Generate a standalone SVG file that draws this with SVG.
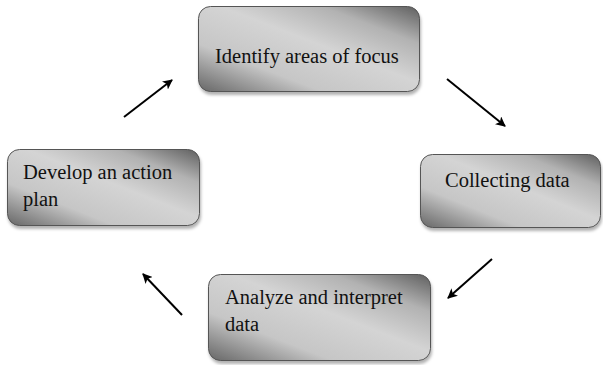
<svg xmlns="http://www.w3.org/2000/svg" width="603" height="365" viewBox="0 0 603 365">
<defs>
<linearGradient id="metal" x1="1" y1="0" x2="0" y2="1">
<stop offset="0" stop-color="#5e5e5e"/>
<stop offset="0.22" stop-color="#b2b2b2"/>
<stop offset="0.45" stop-color="#d4d4d4"/>
<stop offset="0.72" stop-color="#c6c6c6"/>
<stop offset="1" stop-color="#666"/>
</linearGradient>
<filter id="sh" x="-10%" y="-10%" width="125%" height="135%">
<feDropShadow dx="1" dy="3" stdDeviation="1.5" flood-color="#000" flood-opacity="0.3"/>
</filter>
<marker id="ah" viewBox="0 0 10 10" refX="9" refY="5" markerWidth="5" markerHeight="5" orient="auto" markerUnits="strokeWidth">
<path d="M0,0 L10,5 L0,10 L2.5,5 Z" fill="#000"/>
</marker>
</defs>
<style>
.box{fill:url(#metal);stroke:#555;stroke-width:1;filter:url(#sh)}
.t{font-family:"Liberation Serif","Times New Roman",serif;font-size:20.5px;fill:#111}
.c{stroke:#000;stroke-width:2;fill:none;marker-end:url(#ah)}
</style>
<rect width="603" height="365" fill="#fff"/>
<g id="node-identify">
<rect class="box" x="198.5" y="6.5" width="221" height="85" rx="12"/>
<text class="t" x="215" y="63">Identify areas of focus</text>
</g>
<g id="node-collecting">
<rect class="box" x="420.5" y="154.5" width="180" height="73" rx="12"/>
<text class="t" x="445" y="187">Collecting data</text>
</g>
<g id="node-analyze">
<rect class="box" x="208.5" y="274.5" width="222" height="86" rx="12"/>
<text class="t" x="225" y="304">Analyze and interpret</text>
<text class="t" x="225" y="331">data</text>
</g>
<g id="node-develop">
<rect class="box" x="7.5" y="149.5" width="192" height="76" rx="12"/>
<text class="t" x="23" y="179">Develop an action</text>
<text class="t" x="23" y="206">plan</text>
</g>
<g id="connectors">
<line class="c" x1="124" y1="117" x2="172" y2="80"/>
<line class="c" x1="447" y1="79" x2="505" y2="126"/>
<line class="c" x1="492" y1="259" x2="448" y2="298"/>
<line class="c" x1="182" y1="315" x2="143" y2="274"/>
</g>
</svg>
